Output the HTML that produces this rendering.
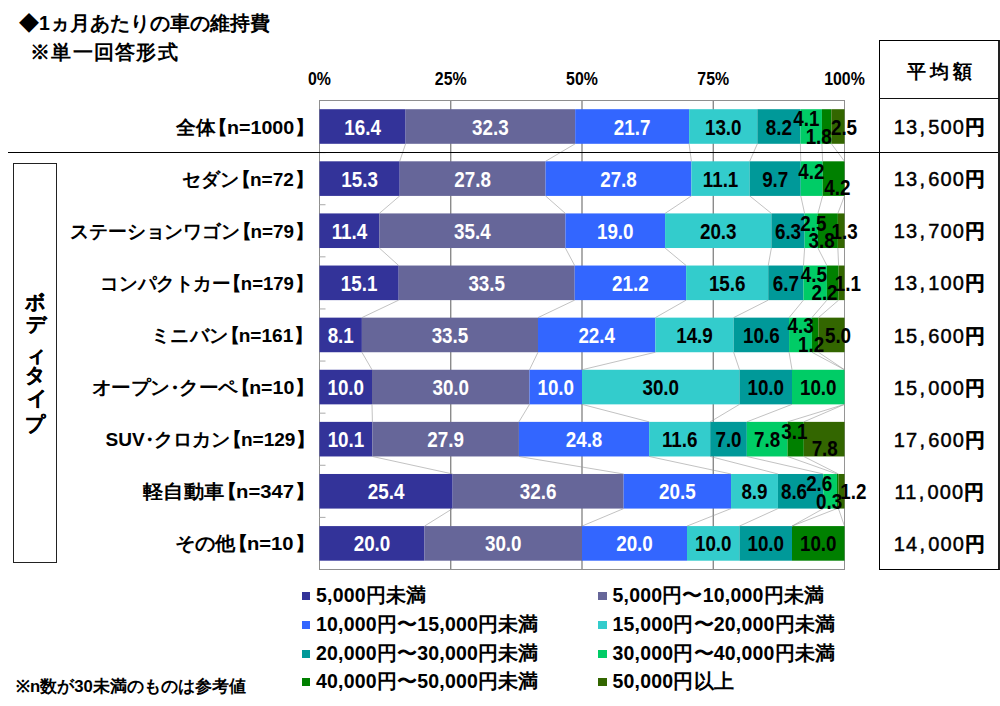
<!DOCTYPE html>
<html><head><meta charset="utf-8"><style>
html,body{margin:0;padding:0;background:#fff;}
body{width:1000px;height:706px;position:relative;overflow:hidden;font-family:"Liberation Sans",sans-serif;font-weight:bold;color:#000;}
.t{position:absolute;white-space:nowrap;line-height:24px;}
#title{left:19px;top:11px;font-size:19.5px;}
#sub{left:30px;top:40px;font-size:19.5px;letter-spacing:1.3px;}
svg{position:absolute;left:0;top:0;}
svg text.ax{font-size:18.5px;}
svg text{font-family:"Liberation Sans",sans-serif;font-weight:bold;font-size:21.5px;}
.cat{position:absolute;white-space:nowrap;font-size:19px;line-height:24px;transform-origin:right center;}
.lb{margin-left:-7px;margin-right:-1px;}
.rb{margin-left:1px;}
.dot{margin:0 -5px;}
.avg{position:absolute;left:880px;width:119px;text-align:center;white-space:nowrap;font-size:20px;line-height:24px;letter-spacing:1.2px;text-indent:1.2px;font-weight:normal;-webkit-text-stroke:0.45px #000;}
.avg .cm{margin:0 2px 0 1px;}
.avg b{-webkit-text-stroke:0.2px #000;}
#hline{position:absolute;left:8px;top:151.7px;width:991px;height:1.4px;background:#000;}
#tbl{position:absolute;left:879px;top:40px;width:118px;height:528px;border:1.2px solid #000;border-right:2px solid #222;}
#thl{position:absolute;left:879px;top:98px;width:120px;height:1px;background:#111;}
#thead{position:absolute;left:880px;top:59.5px;width:119px;text-align:center;font-size:19px;line-height:24px;letter-spacing:4px;text-indent:4px;}
#vbox{position:absolute;left:13px;top:163px;width:41.5px;height:397.5px;border:1.3px solid #222;}
.vt{position:absolute;font-size:19.5px;line-height:20px;-webkit-text-stroke:0.3px #000;}
.lm{position:absolute;width:8.4px;height:8.4px;}
.lt{position:absolute;white-space:nowrap;font-size:19.5px;line-height:22px;letter-spacing:0.2px;}
#note{left:16px;top:677px;font-size:16.7px;line-height:20px;}
</style></head><body>
<div class="t" id="title">◆1ヵ月あたりの車の維持費</div>
<div class="t" id="sub">※単一回答形式</div>
<svg width="1000" height="706" viewBox="0 0 1000 706">
<g font-size="18" font-family="Liberation Sans, sans-serif" font-weight="bold" fill="#000" style="font-size:18px">
<text class="ax" x="0" y="0" transform="translate(319.50,85.3) scale(0.86,1)" text-anchor="middle">0%</text>
<text class="ax" x="0" y="0" transform="translate(450.75,85.3) scale(0.86,1)" text-anchor="middle">25%</text>
<text class="ax" x="0" y="0" transform="translate(582.00,85.3) scale(0.86,1)" text-anchor="middle">50%</text>
<text class="ax" x="0" y="0" transform="translate(713.25,85.3) scale(0.86,1)" text-anchor="middle">75%</text>
<text class="ax" x="0" y="0" transform="translate(844.50,85.3) scale(0.86,1)" text-anchor="middle">100%</text>
</g>
<line x1="450.75" y1="100.5" x2="450.75" y2="569.5" stroke="#777" stroke-width="1.2"/>
<line x1="582.00" y1="100.5" x2="582.00" y2="569.5" stroke="#777" stroke-width="1.2"/>
<line x1="713.25" y1="100.5" x2="713.25" y2="569.5" stroke="#777" stroke-width="1.2"/>
<rect x="319.50" y="100.5" width="525.0" height="469.0" fill="none" stroke="#8f8f8f" stroke-width="1"/>
<line x1="319.50" y1="152.61" x2="325.50" y2="152.61" stroke="#aaa" stroke-width="1"/>
<line x1="319.50" y1="204.72" x2="325.50" y2="204.72" stroke="#aaa" stroke-width="1"/>
<line x1="319.50" y1="256.83" x2="325.50" y2="256.83" stroke="#aaa" stroke-width="1"/>
<line x1="319.50" y1="308.94" x2="325.50" y2="308.94" stroke="#aaa" stroke-width="1"/>
<line x1="319.50" y1="361.06" x2="325.50" y2="361.06" stroke="#aaa" stroke-width="1"/>
<line x1="319.50" y1="413.17" x2="325.50" y2="413.17" stroke="#aaa" stroke-width="1"/>
<line x1="319.50" y1="465.28" x2="325.50" y2="465.28" stroke="#aaa" stroke-width="1"/>
<line x1="319.50" y1="517.39" x2="325.50" y2="517.39" stroke="#aaa" stroke-width="1"/>
<rect x="319.50" y="109.20" width="86.10" height="34.6" fill="#333399"/>
<rect x="405.60" y="109.20" width="169.57" height="34.6" fill="#666699"/>
<rect x="575.17" y="109.20" width="113.92" height="34.6" fill="#3366FF"/>
<rect x="689.10" y="109.20" width="68.25" height="34.6" fill="#33CCCC"/>
<rect x="757.35" y="109.20" width="43.05" height="34.6" fill="#009999"/>
<rect x="800.40" y="109.20" width="21.52" height="34.6" fill="#00CC66"/>
<rect x="821.92" y="109.20" width="9.45" height="34.6" fill="#008000"/>
<rect x="831.38" y="109.20" width="13.12" height="34.6" fill="#336600"/>
<rect x="319.50" y="161.31" width="80.21" height="34.6" fill="#333399"/>
<rect x="399.71" y="161.31" width="145.83" height="34.6" fill="#666699"/>
<rect x="545.54" y="161.31" width="145.83" height="34.6" fill="#3366FF"/>
<rect x="691.38" y="161.31" width="58.33" height="34.6" fill="#33CCCC"/>
<rect x="749.71" y="161.31" width="51.04" height="34.6" fill="#009999"/>
<rect x="800.75" y="161.31" width="21.88" height="34.6" fill="#00CC66"/>
<rect x="822.63" y="161.31" width="21.87" height="34.6" fill="#008000"/>
<rect x="319.50" y="213.42" width="59.81" height="34.6" fill="#333399"/>
<rect x="379.31" y="213.42" width="186.08" height="34.6" fill="#666699"/>
<rect x="565.39" y="213.42" width="99.68" height="34.6" fill="#3366FF"/>
<rect x="665.07" y="213.42" width="106.33" height="34.6" fill="#33CCCC"/>
<rect x="771.40" y="213.42" width="33.23" height="34.6" fill="#009999"/>
<rect x="804.63" y="213.42" width="13.29" height="34.6" fill="#00CC66"/>
<rect x="817.92" y="213.42" width="19.94" height="34.6" fill="#008000"/>
<rect x="837.85" y="213.42" width="6.65" height="34.6" fill="#336600"/>
<rect x="319.50" y="265.53" width="79.19" height="34.6" fill="#333399"/>
<rect x="398.69" y="265.53" width="175.98" height="34.6" fill="#666699"/>
<rect x="574.67" y="265.53" width="111.45" height="34.6" fill="#3366FF"/>
<rect x="686.12" y="265.53" width="82.12" height="34.6" fill="#33CCCC"/>
<rect x="768.24" y="265.53" width="35.20" height="34.6" fill="#009999"/>
<rect x="803.44" y="265.53" width="23.46" height="34.6" fill="#00CC66"/>
<rect x="826.90" y="265.53" width="11.73" height="34.6" fill="#008000"/>
<rect x="838.63" y="265.53" width="5.87" height="34.6" fill="#336600"/>
<rect x="319.50" y="317.64" width="42.39" height="34.6" fill="#333399"/>
<rect x="361.89" y="317.64" width="176.09" height="34.6" fill="#666699"/>
<rect x="537.98" y="317.64" width="117.39" height="34.6" fill="#3366FF"/>
<rect x="655.37" y="317.64" width="78.26" height="34.6" fill="#33CCCC"/>
<rect x="733.63" y="317.64" width="55.43" height="34.6" fill="#009999"/>
<rect x="789.07" y="317.64" width="22.83" height="34.6" fill="#00CC66"/>
<rect x="811.89" y="317.64" width="6.52" height="34.6" fill="#008000"/>
<rect x="818.41" y="317.64" width="26.09" height="34.6" fill="#336600"/>
<rect x="319.50" y="369.76" width="52.50" height="34.6" fill="#333399"/>
<rect x="372.00" y="369.76" width="157.50" height="34.6" fill="#666699"/>
<rect x="529.50" y="369.76" width="52.50" height="34.6" fill="#3366FF"/>
<rect x="582.00" y="369.76" width="157.50" height="34.6" fill="#33CCCC"/>
<rect x="739.50" y="369.76" width="52.50" height="34.6" fill="#009999"/>
<rect x="792.00" y="369.76" width="52.50" height="34.6" fill="#00CC66"/>
<rect x="319.50" y="421.87" width="52.91" height="34.6" fill="#333399"/>
<rect x="372.41" y="421.87" width="146.51" height="34.6" fill="#666699"/>
<rect x="518.92" y="421.87" width="130.23" height="34.6" fill="#3366FF"/>
<rect x="649.15" y="421.87" width="61.05" height="34.6" fill="#33CCCC"/>
<rect x="710.20" y="421.87" width="36.63" height="34.6" fill="#009999"/>
<rect x="746.83" y="421.87" width="40.70" height="34.6" fill="#00CC66"/>
<rect x="787.52" y="421.87" width="16.28" height="34.6" fill="#008000"/>
<rect x="803.80" y="421.87" width="40.70" height="34.6" fill="#336600"/>
<rect x="319.50" y="473.98" width="133.14" height="34.6" fill="#333399"/>
<rect x="452.64" y="473.98" width="170.97" height="34.6" fill="#666699"/>
<rect x="623.61" y="473.98" width="107.42" height="34.6" fill="#3366FF"/>
<rect x="731.03" y="473.98" width="46.90" height="34.6" fill="#33CCCC"/>
<rect x="777.93" y="473.98" width="45.39" height="34.6" fill="#009999"/>
<rect x="823.32" y="473.98" width="13.62" height="34.6" fill="#00CC66"/>
<rect x="836.94" y="473.98" width="1.51" height="34.6" fill="#008000"/>
<rect x="838.45" y="473.98" width="6.05" height="34.6" fill="#336600"/>
<rect x="319.50" y="526.09" width="105.00" height="34.6" fill="#333399"/>
<rect x="424.50" y="526.09" width="157.50" height="34.6" fill="#666699"/>
<rect x="582.00" y="526.09" width="105.00" height="34.6" fill="#3366FF"/>
<rect x="687.00" y="526.09" width="52.50" height="34.6" fill="#33CCCC"/>
<rect x="739.50" y="526.09" width="52.50" height="34.6" fill="#009999"/>
<rect x="792.00" y="526.09" width="52.50" height="34.6" fill="#008000"/>
<line x1="405.60" y1="143.80" x2="399.71" y2="161.31" stroke="#999" stroke-width="0.6"/>
<line x1="575.17" y1="143.80" x2="545.54" y2="161.31" stroke="#999" stroke-width="0.6"/>
<line x1="689.10" y1="143.80" x2="691.38" y2="161.31" stroke="#999" stroke-width="0.6"/>
<line x1="757.35" y1="143.80" x2="749.71" y2="161.31" stroke="#999" stroke-width="0.6"/>
<line x1="800.40" y1="143.80" x2="800.75" y2="161.31" stroke="#999" stroke-width="0.6"/>
<line x1="821.92" y1="143.80" x2="822.63" y2="161.31" stroke="#999" stroke-width="0.6"/>
<line x1="831.38" y1="143.80" x2="844.50" y2="161.31" stroke="#999" stroke-width="0.6"/>
<line x1="844.50" y1="143.80" x2="844.50" y2="161.31" stroke="#999" stroke-width="0.6"/>
<line x1="399.71" y1="195.91" x2="379.31" y2="213.42" stroke="#999" stroke-width="0.6"/>
<line x1="545.54" y1="195.91" x2="565.39" y2="213.42" stroke="#999" stroke-width="0.6"/>
<line x1="691.38" y1="195.91" x2="665.07" y2="213.42" stroke="#999" stroke-width="0.6"/>
<line x1="749.71" y1="195.91" x2="771.40" y2="213.42" stroke="#999" stroke-width="0.6"/>
<line x1="800.75" y1="195.91" x2="804.63" y2="213.42" stroke="#999" stroke-width="0.6"/>
<line x1="822.63" y1="195.91" x2="817.92" y2="213.42" stroke="#999" stroke-width="0.6"/>
<line x1="844.50" y1="195.91" x2="837.85" y2="213.42" stroke="#999" stroke-width="0.6"/>
<line x1="844.50" y1="195.91" x2="844.50" y2="213.42" stroke="#999" stroke-width="0.6"/>
<line x1="379.31" y1="248.02" x2="398.69" y2="265.53" stroke="#999" stroke-width="0.6"/>
<line x1="565.39" y1="248.02" x2="574.67" y2="265.53" stroke="#999" stroke-width="0.6"/>
<line x1="665.07" y1="248.02" x2="686.12" y2="265.53" stroke="#999" stroke-width="0.6"/>
<line x1="771.40" y1="248.02" x2="768.24" y2="265.53" stroke="#999" stroke-width="0.6"/>
<line x1="804.63" y1="248.02" x2="803.44" y2="265.53" stroke="#999" stroke-width="0.6"/>
<line x1="817.92" y1="248.02" x2="826.90" y2="265.53" stroke="#999" stroke-width="0.6"/>
<line x1="837.85" y1="248.02" x2="838.63" y2="265.53" stroke="#999" stroke-width="0.6"/>
<line x1="844.50" y1="248.02" x2="844.50" y2="265.53" stroke="#999" stroke-width="0.6"/>
<line x1="398.69" y1="300.13" x2="361.89" y2="317.64" stroke="#999" stroke-width="0.6"/>
<line x1="574.67" y1="300.13" x2="537.98" y2="317.64" stroke="#999" stroke-width="0.6"/>
<line x1="686.12" y1="300.13" x2="655.37" y2="317.64" stroke="#999" stroke-width="0.6"/>
<line x1="768.24" y1="300.13" x2="733.63" y2="317.64" stroke="#999" stroke-width="0.6"/>
<line x1="803.44" y1="300.13" x2="789.07" y2="317.64" stroke="#999" stroke-width="0.6"/>
<line x1="826.90" y1="300.13" x2="811.89" y2="317.64" stroke="#999" stroke-width="0.6"/>
<line x1="838.63" y1="300.13" x2="818.41" y2="317.64" stroke="#999" stroke-width="0.6"/>
<line x1="844.50" y1="300.13" x2="844.50" y2="317.64" stroke="#999" stroke-width="0.6"/>
<line x1="361.89" y1="352.24" x2="372.00" y2="369.76" stroke="#999" stroke-width="0.6"/>
<line x1="537.98" y1="352.24" x2="529.50" y2="369.76" stroke="#999" stroke-width="0.6"/>
<line x1="655.37" y1="352.24" x2="582.00" y2="369.76" stroke="#999" stroke-width="0.6"/>
<line x1="733.63" y1="352.24" x2="739.50" y2="369.76" stroke="#999" stroke-width="0.6"/>
<line x1="789.07" y1="352.24" x2="792.00" y2="369.76" stroke="#999" stroke-width="0.6"/>
<line x1="811.89" y1="352.24" x2="844.50" y2="369.76" stroke="#999" stroke-width="0.6"/>
<line x1="818.41" y1="352.24" x2="844.50" y2="369.76" stroke="#999" stroke-width="0.6"/>
<line x1="844.50" y1="352.24" x2="844.50" y2="369.76" stroke="#999" stroke-width="0.6"/>
<line x1="372.00" y1="404.36" x2="372.41" y2="421.87" stroke="#999" stroke-width="0.6"/>
<line x1="529.50" y1="404.36" x2="518.92" y2="421.87" stroke="#999" stroke-width="0.6"/>
<line x1="582.00" y1="404.36" x2="649.15" y2="421.87" stroke="#999" stroke-width="0.6"/>
<line x1="739.50" y1="404.36" x2="710.20" y2="421.87" stroke="#999" stroke-width="0.6"/>
<line x1="792.00" y1="404.36" x2="746.83" y2="421.87" stroke="#999" stroke-width="0.6"/>
<line x1="844.50" y1="404.36" x2="787.52" y2="421.87" stroke="#999" stroke-width="0.6"/>
<line x1="844.50" y1="404.36" x2="803.80" y2="421.87" stroke="#999" stroke-width="0.6"/>
<line x1="844.50" y1="404.36" x2="844.50" y2="421.87" stroke="#999" stroke-width="0.6"/>
<line x1="372.41" y1="456.47" x2="452.64" y2="473.98" stroke="#999" stroke-width="0.6"/>
<line x1="518.92" y1="456.47" x2="623.61" y2="473.98" stroke="#999" stroke-width="0.6"/>
<line x1="649.15" y1="456.47" x2="731.03" y2="473.98" stroke="#999" stroke-width="0.6"/>
<line x1="710.20" y1="456.47" x2="777.93" y2="473.98" stroke="#999" stroke-width="0.6"/>
<line x1="746.83" y1="456.47" x2="823.32" y2="473.98" stroke="#999" stroke-width="0.6"/>
<line x1="787.52" y1="456.47" x2="836.94" y2="473.98" stroke="#999" stroke-width="0.6"/>
<line x1="803.80" y1="456.47" x2="838.45" y2="473.98" stroke="#999" stroke-width="0.6"/>
<line x1="844.50" y1="456.47" x2="844.50" y2="473.98" stroke="#999" stroke-width="0.6"/>
<line x1="452.64" y1="508.58" x2="424.50" y2="526.09" stroke="#999" stroke-width="0.6"/>
<line x1="623.61" y1="508.58" x2="582.00" y2="526.09" stroke="#999" stroke-width="0.6"/>
<line x1="731.03" y1="508.58" x2="687.00" y2="526.09" stroke="#999" stroke-width="0.6"/>
<line x1="777.93" y1="508.58" x2="739.50" y2="526.09" stroke="#999" stroke-width="0.6"/>
<line x1="823.32" y1="508.58" x2="792.00" y2="526.09" stroke="#999" stroke-width="0.6"/>
<line x1="836.94" y1="508.58" x2="792.00" y2="526.09" stroke="#999" stroke-width="0.6"/>
<line x1="838.45" y1="508.58" x2="844.50" y2="526.09" stroke="#999" stroke-width="0.6"/>
<line x1="844.50" y1="508.58" x2="844.50" y2="526.09" stroke="#999" stroke-width="0.6"/>
<text x="0" y="0" transform="translate(362.55,134.50) scale(0.875,1)" text-anchor="middle" fill="#fff">16.4</text>
<text x="0" y="0" transform="translate(490.39,134.50) scale(0.875,1)" text-anchor="middle" fill="#fff">32.3</text>
<text x="0" y="0" transform="translate(632.14,134.50) scale(0.875,1)" text-anchor="middle" fill="#fff">21.7</text>
<text x="0" y="0" transform="translate(723.22,134.50) scale(0.875,1)" text-anchor="middle" fill="#000">13.0</text>
<text x="0" y="0" transform="translate(778.88,134.50) scale(0.875,1)" text-anchor="middle" fill="#000">8.2</text>
<text x="0" y="0" transform="translate(806.30,126.44) scale(0.875,1)" text-anchor="middle" fill="#000">4.1</text>
<text x="0" y="0" transform="translate(818.70,143.54) scale(0.875,1)" text-anchor="middle" fill="#000">1.8</text>
<text x="0" y="0" transform="translate(844.00,134.74) scale(0.875,1)" text-anchor="middle" fill="#000">2.5</text>
<text x="0" y="0" transform="translate(359.60,186.61) scale(0.875,1)" text-anchor="middle" fill="#fff">15.3</text>
<text x="0" y="0" transform="translate(472.63,186.61) scale(0.875,1)" text-anchor="middle" fill="#fff">27.8</text>
<text x="0" y="0" transform="translate(618.46,186.61) scale(0.875,1)" text-anchor="middle" fill="#fff">27.8</text>
<text x="0" y="0" transform="translate(720.54,186.61) scale(0.875,1)" text-anchor="middle" fill="#000">11.1</text>
<text x="0" y="0" transform="translate(775.23,186.61) scale(0.875,1)" text-anchor="middle" fill="#000">9.7</text>
<text x="0" y="0" transform="translate(811.30,178.74) scale(0.875,1)" text-anchor="middle" fill="#000">4.2</text>
<text x="0" y="0" transform="translate(837.40,195.44) scale(0.875,1)" text-anchor="middle" fill="#000">4.2</text>
<text x="0" y="0" transform="translate(349.41,238.72) scale(0.875,1)" text-anchor="middle" fill="#fff">11.4</text>
<text x="0" y="0" transform="translate(472.35,238.72) scale(0.875,1)" text-anchor="middle" fill="#fff">35.4</text>
<text x="0" y="0" transform="translate(615.23,238.72) scale(0.875,1)" text-anchor="middle" fill="#fff">19.0</text>
<text x="0" y="0" transform="translate(718.23,238.72) scale(0.875,1)" text-anchor="middle" fill="#000">20.3</text>
<text x="0" y="0" transform="translate(788.01,238.72) scale(0.875,1)" text-anchor="middle" fill="#000">6.3</text>
<text x="0" y="0" transform="translate(813.40,230.74) scale(0.875,1)" text-anchor="middle" fill="#000">2.5</text>
<text x="0" y="0" transform="translate(821.60,247.54) scale(0.875,1)" text-anchor="middle" fill="#000">3.8</text>
<text x="0" y="0" transform="translate(844.60,239.04) scale(0.875,1)" text-anchor="middle" fill="#000">1.3</text>
<text x="0" y="0" transform="translate(359.09,290.83) scale(0.875,1)" text-anchor="middle" fill="#fff">15.1</text>
<text x="0" y="0" transform="translate(486.68,290.83) scale(0.875,1)" text-anchor="middle" fill="#fff">33.5</text>
<text x="0" y="0" transform="translate(630.39,290.83) scale(0.875,1)" text-anchor="middle" fill="#fff">21.2</text>
<text x="0" y="0" transform="translate(727.18,290.83) scale(0.875,1)" text-anchor="middle" fill="#000">15.6</text>
<text x="0" y="0" transform="translate(785.84,290.83) scale(0.875,1)" text-anchor="middle" fill="#000">6.7</text>
<text x="0" y="0" transform="translate(813.80,282.04) scale(0.875,1)" text-anchor="middle" fill="#000">4.5</text>
<text x="0" y="0" transform="translate(824.50,299.74) scale(0.875,1)" text-anchor="middle" fill="#000">2.2</text>
<text x="0" y="0" transform="translate(847.90,291.14) scale(0.875,1)" text-anchor="middle" fill="#000">1.1</text>
<text x="0" y="0" transform="translate(340.70,342.94) scale(0.875,1)" text-anchor="middle" fill="#fff">8.1</text>
<text x="0" y="0" transform="translate(449.93,342.94) scale(0.875,1)" text-anchor="middle" fill="#fff">33.5</text>
<text x="0" y="0" transform="translate(596.67,342.94) scale(0.875,1)" text-anchor="middle" fill="#fff">22.4</text>
<text x="0" y="0" transform="translate(694.50,342.94) scale(0.875,1)" text-anchor="middle" fill="#000">14.9</text>
<text x="0" y="0" transform="translate(761.35,342.94) scale(0.875,1)" text-anchor="middle" fill="#000">10.6</text>
<text x="0" y="0" transform="translate(800.60,333.44) scale(0.875,1)" text-anchor="middle" fill="#000">4.3</text>
<text x="0" y="0" transform="translate(811.10,351.84) scale(0.875,1)" text-anchor="middle" fill="#000">1.2</text>
<text x="0" y="0" transform="translate(838.00,343.14) scale(0.875,1)" text-anchor="middle" fill="#000">5.0</text>
<text x="0" y="0" transform="translate(345.75,395.05) scale(0.875,1)" text-anchor="middle" fill="#fff">10.0</text>
<text x="0" y="0" transform="translate(450.75,395.05) scale(0.875,1)" text-anchor="middle" fill="#fff">30.0</text>
<text x="0" y="0" transform="translate(555.75,395.05) scale(0.875,1)" text-anchor="middle" fill="#fff">10.0</text>
<text x="0" y="0" transform="translate(660.75,395.05) scale(0.875,1)" text-anchor="middle" fill="#000">30.0</text>
<text x="0" y="0" transform="translate(765.75,395.05) scale(0.875,1)" text-anchor="middle" fill="#000">10.0</text>
<text x="0" y="0" transform="translate(818.25,395.05) scale(0.875,1)" text-anchor="middle" fill="#000">10.0</text>
<text x="0" y="0" transform="translate(345.95,447.16) scale(0.875,1)" text-anchor="middle" fill="#fff">10.1</text>
<text x="0" y="0" transform="translate(445.66,447.16) scale(0.875,1)" text-anchor="middle" fill="#fff">27.9</text>
<text x="0" y="0" transform="translate(584.03,447.16) scale(0.875,1)" text-anchor="middle" fill="#fff">24.8</text>
<text x="0" y="0" transform="translate(679.67,447.16) scale(0.875,1)" text-anchor="middle" fill="#000">11.6</text>
<text x="0" y="0" transform="translate(728.51,447.16) scale(0.875,1)" text-anchor="middle" fill="#000">7.0</text>
<text x="0" y="0" transform="translate(767.17,447.16) scale(0.875,1)" text-anchor="middle" fill="#000">7.8</text>
<text x="0" y="0" transform="translate(794.40,439.14) scale(0.875,1)" text-anchor="middle" fill="#000">3.1</text>
<text x="0" y="0" transform="translate(824.70,455.94) scale(0.875,1)" text-anchor="middle" fill="#000">7.8</text>
<text x="0" y="0" transform="translate(386.07,499.27) scale(0.875,1)" text-anchor="middle" fill="#fff">25.4</text>
<text x="0" y="0" transform="translate(538.12,499.27) scale(0.875,1)" text-anchor="middle" fill="#fff">32.6</text>
<text x="0" y="0" transform="translate(677.32,499.27) scale(0.875,1)" text-anchor="middle" fill="#fff">20.5</text>
<text x="0" y="0" transform="translate(754.48,499.27) scale(0.875,1)" text-anchor="middle" fill="#000">8.9</text>
<text x="0" y="0" transform="translate(794.00,499.14) scale(0.875,1)" text-anchor="middle" fill="#000">8.6</text>
<text x="0" y="0" transform="translate(819.20,490.94) scale(0.875,1)" text-anchor="middle" fill="#000">2.6</text>
<text x="0" y="0" transform="translate(829.10,508.64) scale(0.875,1)" text-anchor="middle" fill="#000">0.3</text>
<text x="0" y="0" transform="translate(853.30,499.14) scale(0.875,1)" text-anchor="middle" fill="#000">1.2</text>
<text x="0" y="0" transform="translate(372.00,551.38) scale(0.875,1)" text-anchor="middle" fill="#fff">20.0</text>
<text x="0" y="0" transform="translate(503.25,551.38) scale(0.875,1)" text-anchor="middle" fill="#fff">30.0</text>
<text x="0" y="0" transform="translate(634.50,551.38) scale(0.875,1)" text-anchor="middle" fill="#fff">20.0</text>
<text x="0" y="0" transform="translate(713.25,551.38) scale(0.875,1)" text-anchor="middle" fill="#000">10.0</text>
<text x="0" y="0" transform="translate(765.75,551.38) scale(0.875,1)" text-anchor="middle" fill="#000">10.0</text>
<text x="0" y="0" transform="translate(818.25,551.38) scale(0.875,1)" text-anchor="middle" fill="#000">10.0</text>
</svg>
<div id="hline"></div>
<div id="tbl"></div>
<div id="thl"></div>
<div id="thead">平均額</div>
<div class="cat" style="top:115.6px;right:685.4px;transform:scaleX(1.036)">全体<span class="lb">【</span>n=1000<span class="rb">】</span></div>
<div class="avg" style="top:115.1px">13<span class="cm">,</span>500<b>円</b></div>
<div class="cat" style="top:167.7px;right:686.2px;transform:scaleX(1.000)">セダン<span class="lb">【</span>n=72<span class="rb">】</span></div>
<div class="avg" style="top:167.2px">13<span class="cm">,</span>600<b>円</b></div>
<div class="cat" style="top:219.8px;right:686.2px;transform:scaleX(0.991)">ステーションワゴン<span class="lb">【</span>n=79<span class="rb">】</span></div>
<div class="avg" style="top:219.3px">13<span class="cm">,</span>700<b>円</b></div>
<div class="cat" style="top:271.9px;right:686.2px;transform:scaleX(0.975)">コンパクトカー<span class="lb">【</span>n=179<span class="rb">】</span></div>
<div class="avg" style="top:271.4px">13<span class="cm">,</span>100<b>円</b></div>
<div class="cat" style="top:324.0px;right:686.2px;transform:scaleX(1.004)">ミニバン<span class="lb">【</span>n=161<span class="rb">】</span></div>
<div class="avg" style="top:323.5px">15<span class="cm">,</span>600<b>円</b></div>
<div class="cat" style="top:376.1px;right:684.7px;transform:scaleX(1.029)">オープン<span class="dot">・</span>クーペ<span class="lb">【</span>n=10<span class="rb">】</span></div>
<div class="avg" style="top:375.6px">15<span class="cm">,</span>000<b>円</b></div>
<div class="cat" style="top:428.2px;right:684.7px;transform:scaleX(1.002)">SUV<span class="dot">・</span>クロカン<span class="lb">【</span>n=129<span class="rb">】</span></div>
<div class="avg" style="top:427.7px">17<span class="cm">,</span>600<b>円</b></div>
<div class="cat" style="top:480.3px;right:684.7px;transform:scaleX(1.067)">軽自動車<span class="lb">【</span>n=347<span class="rb">】</span></div>
<div class="avg" style="top:479.8px">11<span class="cm">,</span>000<b>円</b></div>
<div class="cat" style="top:532.4px;right:684.7px;transform:scaleX(1.063)">その他<span class="lb">【</span>n=10<span class="rb">】</span></div>
<div class="avg" style="top:531.9px">14<span class="cm">,</span>000<b>円</b></div>
<div id="vbox"></div>
<div class="vt" style="left:25.3px;top:292px">ボ</div>
<div class="vt" style="left:25.5px;top:314px">デ</div>
<div class="vt" style="left:25.5px;top:345px">ィ</div>
<div class="vt" style="left:25.4px;top:365px">タ</div>
<div class="vt" style="left:27.1px;top:388px">イ</div>
<div class="vt" style="left:25.1px;top:414px">プ</div>
<div class="lm" style="left:302px;top:591.8px;background:#333399"></div>
<div class="lt" style="left:316px;top:584.0px">5,000円未満</div>
<div class="lm" style="left:598.3px;top:591.8px;background:#666699"></div>
<div class="lt" style="left:612.5px;top:584.0px">5,000円〜10,000円未満</div>
<div class="lm" style="left:302px;top:620.5px;background:#3366FF"></div>
<div class="lt" style="left:316px;top:612.7px">10,000円〜15,000円未満</div>
<div class="lm" style="left:598.3px;top:620.5px;background:#33CCCC"></div>
<div class="lt" style="left:612.5px;top:612.7px">15,000円〜20,000円未満</div>
<div class="lm" style="left:302px;top:649.5px;background:#009999"></div>
<div class="lt" style="left:316px;top:641.7px">20,000円〜30,000円未満</div>
<div class="lm" style="left:598.3px;top:649.5px;background:#00CC66"></div>
<div class="lt" style="left:612.5px;top:641.7px">30,000円〜40,000円未満</div>
<div class="lm" style="left:302px;top:677.8px;background:#008000"></div>
<div class="lt" style="left:316px;top:670.0px">40,000円〜50,000円未満</div>
<div class="lm" style="left:598.3px;top:677.8px;background:#336600"></div>
<div class="lt" style="left:612.5px;top:670.0px">50,000円以上</div>
<div class="t" id="note">※n数が30未満のものは参考値</div>
</body></html>
